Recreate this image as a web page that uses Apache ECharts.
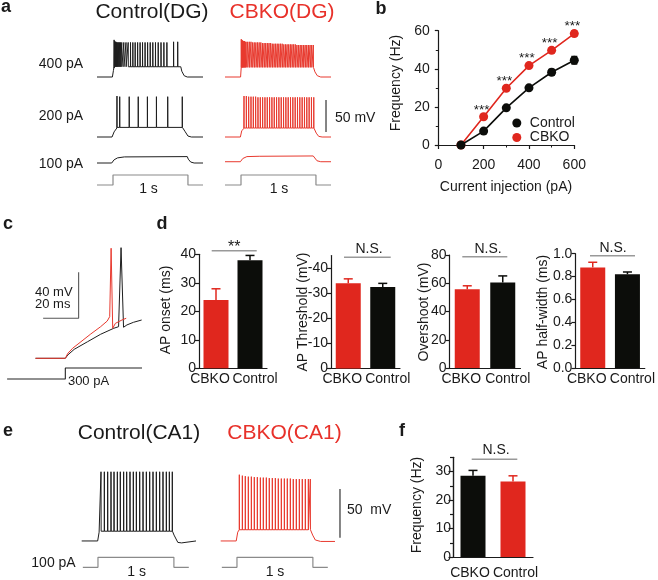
<!DOCTYPE html>
<html><head><meta charset="utf-8">
<script src="https://cdn.jsdelivr.net/npm/echarts@6/dist/echarts.min.js"></script>
<style>html,body{margin:0;padding:0;background:#fff}#c{width:658px;height:580px}</style>
</head><body><div id="c"></div>
<script>
// ================= DATA =================
// ---- Panel a : DG traces (time ms, membrane potential mV) ----
const aStep = [[0,0],[234,0],[234,100],[1330,100],[1330,0],[1550,0]];           // current step (pA)
const c400Env = [[0,-70],[225,-70],[240,-60],[252,-56],[1225,-54],[1240,-61],[1275,-68],[1320,-70],[1550,-70]];
const c400Spikes = [[250,-12],[258,-14],[266,-15],[275,-15],[285,-16],[295,-16],[306,-16],[318,-16],[331,-16],[345,-16],[362,-16],[392,-16],[424,-16],[456,-16],[490,-16],[524,-16],[558,-16],[594,-16],[630,-16],[666,-16],[703,-16],[740,-16],[778,-16],[816,-16],[855,-16],[895,-16],[936,-16],[978,-16],[1022,-16],[1120,-15],[1180,-15]];
const k400Env = [[0,-70],[228,-70],[238,-58],[250,-55],[1300,-55],[1315,-62],[1350,-68],[1400,-70],[1550,-70]];
const k400Spikes = [[238,-11],[244,-12],[251,-13],[258,-13],[266,-14],[275,-14],[285,-14],[296,-15],[308,-15],[332,-15],[356,-15],[380,-15],[404,-16],[428,-16],[452,-16],[476,-16],[500,-16],[524,-16],[548,-17],[572,-17],[596,-17],[620,-17],[644,-17],[668,-17],[692,-18],[716,-18],[740,-18],[764,-18],[788,-18],[812,-18],[836,-18],[860,-19],[884,-19],[908,-19],[932,-19],[956,-19],[980,-19],[1004,-19],[1028,-19],[1052,-20],[1076,-20],[1100,-20],[1124,-20],[1148,-20],[1172,-20],[1196,-20],[1220,-20],[1244,-20],[1268,-20],[1292,-20]];
const c200Env = [[0,-70],[220,-70],[250,-62],[290,-56],[1270,-53],[1285,-61],[1330,-68.5],[1380,-70],[1550,-70]];
const c200Spikes = [[292,-6],[332,-7],[471,-7],[603,-7],[737,-7],[869,-7],[1034,-7],[1247,-7]];
const k200Env = [[0,-70],[225,-70],[245,-60],[275,-57],[1320,-56],[1335,-64],[1370,-69],[1420,-70],[1550,-70]];
const k200Spikes = [[278,-6],[312,-6],[346,-7],[380,-7],[414,-7],[448,-7],[482,-8],[516,-8],[550,-8],[584,-8],[618,-8],[652,-8],[686,-8],[720,-8],[754,-8],[788,-8],[822,-8],[856,-8],[890,-8],[924,-8],[958,-8],[992,-8],[1026,-8],[1060,-8],[1094,-8],[1128,-8],[1162,-8],[1196,-8],[1230,-8],[1264,-8],[1298,-8]];
const c100Env = [[0,-70],[215,-70],[250,-65],[300,-62],[400,-60.5],[1320,-60],[1335,-64],[1370,-68.5],[1420,-70],[1550,-70]];
const k100Env = [[0,-68],[225,-68],[260,-63],[320,-60],[500,-59.5],[1290,-59],[1305,-62],[1345,-66.5],[1400,-68],[1550,-68]];
const aBases = {c400:-54, k400:-55, c200:-55, k200:-56};
const aScaleBar = [[1477,-12],[1477,-62]];   // 50 mV

// ---- Panel b : F-I curve ----
const currents = [100,200,300,400,500,600];
const ctrlFreq = [0,7.3,19.5,30,38.2,44.5];
const cbkoFreq = [0,14.8,29.8,41.7,49.7,58.5];
const ctrlSem  = [0.3,0.8,1,1,1.5,2];
const cbkoSem  = [0.3,1,1,1,1.2,1.5];
const sigStars = ['','***','***','***','***','***'];

// ---- Panel c : first spike (ms, mV) ----
const cRed   = [[0,-70],[16.8,-70],[18.2,-65.7],[20.9,-61.3],[25.6,-55.6],[31.1,-48.9],[36.7,-42.5],[40.4,-37.6],[41.8,-33.8],[42.6,25.7],[43.5,-43.9],[45,-39.6],[48.7,-36.7],[51.1,-35.2]];
const cBlack = [[0,-70],[16.8,-70],[18.2,-67.1],[21.8,-62.2],[29.3,-55.6],[36.7,-49.1],[44.1,-43.9],[46.8,-42.5],[48.2,26.2],[49.6,-43],[51.5,-41],[55.2,-38.7],[59.8,-36.7]];
const cStep  = [[-16,0],[16.8,0],[16.8,300],[60,300]];
const cScaleBar = [[4.3,-35.2],[24.3,-35.2],[24.3,4.8]];   // 20 ms, 40 mV

// ---- Panel d : AP properties ----
const dCats = ['CBKO','Control'];
const apOnset = [24.0,37.9],   apOnsetSem = [3.9,1.7];
const apThresh = [-33.9,-32.5], apThreshSem = [1.8,1.4];
const overshoot = [55.8,60.6], overshootSem = [2.4,4.6];
const halfWidth = [0.88,0.82], halfWidthSem = [0.045,0.02];
const threshTicks = [-40,-30,-20,-10,0];

// ---- Panel e : CA1 traces ----
const eStep = [[15,0],[215,0],[215,100],[1218,100],[1218,0],[1415,0]];
const ceEnv = [[0,-70],[211,-70],[230,-61],[250,-59.5],[1205,-59],[1220,-64],[1270,-71.5],[1320,-72],[1510,-70]];
const ceSpikes = [[255,1],[299,1],[343,1],[387,1],[427,1],[471,1],[510,1],[554,1],[594,1],[638,1],[682,1],[722,1],[766,1],[810,1],[854,1],[898,1],[942,1],[986,1],[1030,1],[1074,1],[1118,1],[1158,1],[1197,1]];
const keEnv = [[0,-70],[205,-70],[225,-61],[250,-58.5],[1200,-58],[1215,-64],[1250,-69],[1320,-70.5],[1510,-70.5]];
const keSpikes = [[246,-2],[286,-3],[325,-3.5],[365,-4],[405,-4],[444,-4.5],[484,-4.5],[524,-5],[563,-5],[603,-5],[642,-5.5],[682,-5.5],[722,-5.5],[761,-6],[801,-6],[841,-6],[880,-6],[920,-6],[959,-6.5],[999,-6.5],[1039,-6.5],[1078,-6.5],[1118,-6.5],[1158,-6.5],[1184,-6.5]];
const eBases = {ce:-60, ke:-58.5};
const eScaleBar = [[1576,-16.6],[1576,-66.6]];  // 50 mV

// ---- Panel f ----
const fCats = ['CBKO','Control'];
const fFreq = [28.5,26.5], fSem = [1.9,2.0];
const fMajor = [0,10,20,30], fMinor = [5,15,25,35];

// ================= BUILD =================
const FONT = 'Liberation Sans';
const RED = '#e0271e', DARK = '#0c0d0a', TRB = '#1e1e1e', TRR = '#e8392e', GRAY = '#8a8a8a', AX = '#1a1a1a';

function trace(env, spikes, base) {
  const pts = env.slice();
  spikes.forEach(s => { pts.push([s[0]-1, base], [s[0], s[1]], [s[0]+2, base]); });
  return pts.sort((a,b) => a[0]-b[0]);
}

const G = [], X = [], Y = [], S = [];
function grid(rect, xa, ya) {
  G.push(Object.assign({containLabel:false}, rect));
  const gi = G.length - 1;
  X.push(Object.assign({gridIndex:gi}, xa));
  Y.push(Object.assign({gridIndex:gi}, ya));
  return {x:X.length-1, y:Y.length-1, g:gi};
}
function hid(min, max) { return {type:'value', show:false, min, max}; }
function line(ax, data, color, width, extra) {
  S.push(Object.assign({type:'line', xAxisIndex:ax.x, yAxisIndex:ax.y, data, symbol:'none', showSymbol:false,
    clip:false, silent:true, animation:false, lineStyle:{color, width:width||1}}, extra||{}));
}
const axLine = {show:true, lineStyle:{color:AX, width:1.2}};
function vAxis(o) {
  return Object.assign({type:'value', axisLine:axLine,
    axisTick:{show:true, length:4, lineStyle:{color:AX, width:1.2}},
    axisLabel:{color:AX, fontSize:14, fontFamily:FONT, margin:3},
    splitLine:{show:false}}, o);
}
function cAxis(cats, margin, pads) {
  return {type:'category', data: cats.map((c,i)=>({value:c, textStyle:{padding:pads[i]}})), axisLine:axLine,
    axisTick:{show:false}, axisLabel:{color:AX, fontSize:14, fontFamily:FONT, margin, interval:0}};
}
function bars(ax, vals, colors) {
  S.push({type:'bar', xAxisIndex:ax.x, yAxisIndex:ax.y, barWidth:25, animation:false, silent:true,
    data: vals.map((v,i)=>({value:v, itemStyle:{color:colors[i]}}))});
}
function barErr(ax, vals, sems, colors) {
  S.push({type:'custom', xAxisIndex:ax.x, yAxisIndex:ax.y, animation:false, silent:true, z:5,
    data: vals.map((v,i)=>[i, v, sems[i]]),
    renderItem: (p, api) => {
      const i = api.value(0), v = api.value(1), s = api.value(2);
      const sg = v < 0 ? -1 : 1;
      const a = api.coord([i, v]), b = api.coord([i, v + sg*s]);
      const c = colors[p.dataIndex];
      return {type:'group', children:[
        {type:'line', shape:{x1:a[0],y1:a[1],x2:b[0],y2:b[1]}, style:{stroke:c, lineWidth:1.5}},
        {type:'line', shape:{x1:b[0]-4.5,y1:b[1],x2:b[0]+4.5,y2:b[1]}, style:{stroke:c, lineWidth:1.5}}]};
    }});
}

// ---- panel a ----
const aCols = [97, 225], aW = 106, aRows = [32.2, 92.2, 118.2], aH = 51.2;
const aTr = [
  [c400Env, c400Spikes, aBases.c400, 0, 0, TRB],
  [k400Env, k400Spikes, aBases.k400, 1, 0, TRR],
  [c200Env, c200Spikes, aBases.c200, 0, 1, TRB],
  [k200Env, k200Spikes, aBases.k200, 1, 1, TRR],
  [c100Env, [], -60, 0, 2, TRB],
  [k100Env, [], -60, 1, 2, TRR]];
let k200Ax = null;
aTr.forEach(t => {
  const ax = grid({left:aCols[t[3]], top:aRows[t[4]], width:aW, height:aH}, hid(0,1550), hid(-80,0));
  line(ax, trace(t[0], t[1], t[2]), t[5], 1);
  if (t[3] === 1 && t[4] === 1) k200Ax = ax;
});
line(k200Ax, aScaleBar, '#333', 1.2);
aCols.forEach(c => {
  const ax = grid({left:c, top:170, width:aW, height:20}, hid(0,1550), hid(-50,150));
  line(ax, aStep, GRAY, 1.2);
});

// ---- panel b ----
const bAx = grid({left:438.3, top:30.7, width:136, height:114.3},
  vAxis({min:0, max:600, interval:200, offset:7, minorTick:{show:true, splitNumber:2, length:2.5, lineStyle:{color:AX}},
         axisLabel:{color:AX, fontSize:14, fontFamily:FONT, margin:6}}),
  vAxis({min:0, max:60, interval:20, offset:6.6, minorTick:{show:true, splitNumber:2, length:2.5, lineStyle:{color:AX}},
         axisTick:{show:true, length:3.5, lineStyle:{color:AX, width:1.2}},
         axisLabel:{color:AX, fontSize:14, fontFamily:FONT, margin:2}}));
function fiErr(vals, sems, color) {
  S.push({type:'custom', xAxisIndex:bAx.x, yAxisIndex:bAx.y, animation:false, silent:true, z:1,
    data: currents.map((c,i)=>[c, vals[i], sems[i]]),
    renderItem: (p, api) => {
      const x = api.value(0), v = api.value(1), s = api.value(2);
      const t = api.coord([x, v+s]), b = api.coord([x, v-s]);
      return {type:'group', children:[
        {type:'line', shape:{x1:t[0],y1:t[1],x2:b[0],y2:b[1]}, style:{stroke:color, lineWidth:1.3}},
        {type:'line', shape:{x1:t[0]-3,y1:t[1],x2:t[0]+3,y2:t[1]}, style:{stroke:color, lineWidth:1.3}},
        {type:'line', shape:{x1:b[0]-3,y1:b[1],x2:b[0]+3,y2:b[1]}, style:{stroke:color, lineWidth:1.3}}]};
    }});
}
fiErr(ctrlFreq, ctrlSem, DARK);
fiErr(cbkoFreq, cbkoSem, RED);
S.push({type:'line', name:'CBKO', xAxisIndex:bAx.x, yAxisIndex:bAx.y, clip:false, animation:false, z:3,
  data: currents.map((c,i)=>[c, cbkoFreq[i]]), symbol:'circle', symbolSize:9,
  itemStyle:{color:RED}, lineStyle:{color:RED, width:1.6},
  label:{show:true, position:'inside', offset:[-2,-7], fontSize:13.5, fontFamily:FONT, color:AX,
         formatter: p => sigStars[p.dataIndex]}});
S.push({type:'line', name:'Control', xAxisIndex:bAx.x, yAxisIndex:bAx.y, clip:false, animation:false, z:4,
  data: currents.map((c,i)=>[c, ctrlFreq[i]]), symbol:'circle', symbolSize:9,
  itemStyle:{color:DARK}, lineStyle:{color:DARK, width:1.6}});

// ---- panel c ----
const cT = grid({left:-2, top:243.3, width:144, height:126.5}, hid(-20,60), hid(-80,30));
line(cT, cScaleBar, '#555', 1.1);
line(cT, cBlack, TRB, 1);
line(cT, cRed, TRR, 1);
const cS = grid({left:-2, top:364.3, width:144, height:18.3}, hid(-20,60), hid(-100,400));
line(cS, cStep, '#222', 1.1);

// ---- panel d ----
const dPads = [[0,12,0,0],[0,0,0,10]];
const d1 = grid({left:199, top:254.3, width:68, height:114},
  cAxis(dCats, 4, dPads), vAxis({min:0, max:40, interval:10}));
bars(d1, apOnset, [RED, DARK]); barErr(d1, apOnset, apOnsetSem, [RED, DARK]);
const d2 = grid({left:331, top:255.5, width:69, height:113},
  cAxis(dCats, 4, dPads),
  vAxis({min:-45, max:0, inverse:true, axisTick:{show:true, length:4, customValues:threshTicks, lineStyle:{color:AX, width:1.2}},
         axisLabel:{color:AX, fontSize:14, fontFamily:FONT, margin:3, customValues:threshTicks}}));
bars(d2, apThresh, [RED, DARK]); barErr(d2, apThresh, apThreshSem, [RED, DARK]);
const d3 = grid({left:449.5, top:255, width:71, height:113},
  cAxis(dCats, 4, dPads), vAxis({min:0, max:80, interval:20}));
bars(d3, overshoot, [RED, DARK]); barErr(d3, overshoot, overshootSem, [RED, DARK]);
const d4 = grid({left:575.4, top:253.7, width:69.4, height:114.3},
  cAxis(dCats, 4, dPads),
  vAxis({min:0, max:1, interval:0.2, axisLabel:{color:AX, fontSize:14, fontFamily:FONT, margin:3, formatter:v=>v.toFixed(1)}}));
bars(d4, halfWidth, [RED, DARK]); barErr(d4, halfWidth, halfWidthSem, [RED, DARK]);

// ---- panel e ----
const eC = grid({left:81.7, top:463, width:114.3, height:87.7}, hid(0,1510), hid(-80,10));
line(eC, trace(ceEnv, ceSpikes, eBases.ce), TRB, 1);
const eK = grid({left:220.7, top:463, width:121.1, height:87.7}, hid(0,1600), hid(-80,10));
line(eK, trace(keEnv, keSpikes, eBases.ke), TRR, 1);
line(eK, eScaleBar, '#333', 1.2);
const eCs = grid({left:81.7, top:552.3, width:114.3, height:20}, hid(0,1510), hid(-50,150));
line(eCs, eStep, GRAY, 1.2);
const eKs = grid({left:220.7, top:552.3, width:121.1, height:20}, hid(0,1600), hid(-50,150));
line(eKs, eStep, GRAY, 1.2);

// ---- panel f ----
const fAx = grid({left:453, top:457.3, width:80, height:100},
  cAxis(fCats, 9, [[0,6,0,0],[0,0,0,5]]),
  vAxis({min:0, max:35, axisTick:{show:true, length:4.5, customValues:fMajor, lineStyle:{color:AX, width:1.2}},
         axisLabel:{color:AX, fontSize:14, fontFamily:FONT, margin:2, customValues:fMajor}}));
Y.push({type:'value', gridIndex:fAx.g, position:'left', min:0, max:35, axisLine:{show:true, lineStyle:{color:AX, width:1.2}}, splitLine:{show:false},
  axisLabel:{show:false}, axisTick:{show:true, length:3, customValues:fMinor, lineStyle:{color:AX, width:1.2}}});
bars(fAx, fFreq, [DARK, RED]); barErr(fAx, fFreq, fSem, [DARK, RED]);

// ---- graphics (labels, annotations) ----
function txt(text, x, y, o) {
  o = o || {};
  return {type:'text', x, y, rotation:o.rot||0, z:100, silent:true,
    style:{text, fill:o.color||AX, fontSize:o.size||14, fontFamily:FONT, fontWeight:o.bold?'bold':'normal',
      align:o.align||'center', verticalAlign:'middle', textAlign:o.align||'center', textVerticalAlign:'middle'}};
}
function seg(x1, y1, x2, y2, c, w) {
  return {type:'line', z:100, silent:true, shape:{x1,y1,x2,y2}, style:{stroke:c||'#999', lineWidth:w||1.5}};
}
const R90 = Math.PI/2;
const graphics = [
  txt('a', 6, 7, {bold:true, size:18}), txt('b', 381, 8.7, {bold:true, size:18}),
  txt('c', 8, 223.7, {bold:true, size:18}), txt('d', 162, 223.7, {bold:true, size:18}),
  txt('e', 8, 430.7, {bold:true, size:18}), txt('f', 402, 430.7, {bold:true, size:18}),
  txt('Control(DG)', 152, 12, {size:21}), txt('CBKO(DG)', 282, 12, {size:21, color:'#e8312a'}),
  txt('400 pA', 61, 64), txt('200 pA', 61, 116), txt('100 pA', 61, 164),
  txt('1 s', 148.5, 189.5), txt('1 s', 279, 189.5),
  txt('50 mV', 335, 118.5, {align:'left'}),
  txt('Frequency (Hz)', 396, 83, {rot:R90}),
  txt('Current injection (pA)', 506, 187.5),
  txt('40 mV', 35, 292.5, {align:'left', size:13}), txt('20 ms', 35, 304.5, {align:'left', size:13}),
  txt('300 pA', 88.5, 381, {size:13}),
  txt('AP onset (ms)', 166, 310, {rot:R90}),
  txt('AP Threshold (mV)', 303.5, 312, {rot:R90}),
  txt('Overshoot (mV)', 424, 312, {rot:R90}),
  txt('AP half-width (ms)', 543.5, 312, {rot:R90}),
  seg(211.7, 250.7, 256.7, 250.7), txt('**', 234.3, 248, {size:16}),
  seg(344, 257.3, 390.7, 257.3), txt('N.S.', 369, 249),
  seg(462.3, 256.7, 507.3, 256.7), txt('N.S.', 488, 249),
  seg(590, 255.7, 635, 255.7), txt('N.S.', 613, 248.5),
  txt('Control(CA1)', 139, 433, {size:21}), txt('CBKO(CA1)', 284.5, 433, {size:21, color:'#e8312a'}),
  txt('50  mV', 347, 510, {align:'left'}),
  txt('100 pA', 53.5, 563.3), txt('1 s', 136.7, 571.7), txt('1 s', 275, 571.7),
  txt('Frequency (Hz)', 416.7, 505, {rot:R90}),
  seg(471.7, 459.3, 517.3, 459.3), txt('N.S.', 496, 450)
];

const chart = echarts.init(document.getElementById('c'), null, {renderer:'canvas'});
chart.setOption({
  animation:false,
  backgroundColor:'#fff',
  textStyle:{fontFamily:FONT},
  grid:G, xAxis:X, yAxis:Y, series:S,
  legend:{data:['Control','CBKO'], left:512.3, top:116, padding:0, orient:'vertical', icon:'circle', itemWidth:16, itemHeight:9,
    itemGap:0.5, selectedMode:false, textStyle:{fontSize:14, fontFamily:FONT, color:AX}},
  graphic:graphics
});
</script></body></html>
